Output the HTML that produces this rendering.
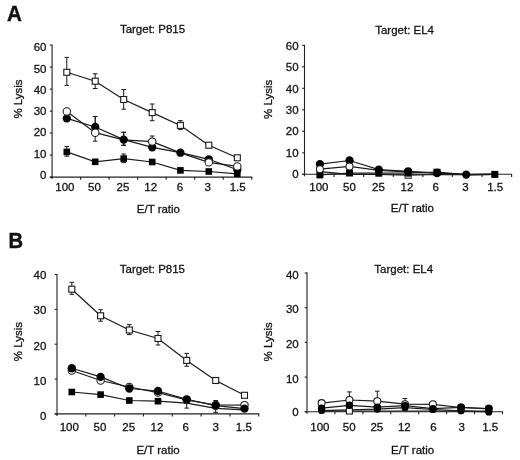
<!DOCTYPE html>
<html lang="en"><head><meta charset="utf-8"><title>Figure</title>
<style>
html,body{margin:0;padding:0;background:#fff;}
body{width:520px;height:460px;overflow:hidden;}
svg{display:block;filter:blur(0.25px);}
text{font-kerning:normal;stroke:#111;stroke-width:0.28px;}
</style></head><body>
<svg width="520" height="460" viewBox="0 0 520 460" font-family='"Liberation Sans", Arial, sans-serif' fill="#111">
<rect width="520" height="460" fill="#fff"/>
<text transform="translate(7.1 21.3) scale(0.95 1)" font-size="21.7" font-weight="bold" style="stroke-width:0.45px">A</text>
<text transform="translate(8.4 248.0) scale(0.93 1)" font-size="21.7" font-weight="bold" style="stroke-width:0.45px">B</text>
<line x1="52.10" y1="44.60" x2="52.10" y2="177.60" stroke="#202020" stroke-width="1.1"/>
<line x1="49.80" y1="177.10" x2="252.25" y2="177.10" stroke="#202020" stroke-width="1.1"/>
<line x1="49.80" y1="177.10" x2="52.10" y2="177.10" stroke="#202020" stroke-width="1.1"/>
<line x1="49.80" y1="155.10" x2="52.10" y2="155.10" stroke="#202020" stroke-width="1.1"/>
<line x1="49.80" y1="133.10" x2="52.10" y2="133.10" stroke="#202020" stroke-width="1.1"/>
<line x1="49.80" y1="111.10" x2="52.10" y2="111.10" stroke="#202020" stroke-width="1.1"/>
<line x1="49.80" y1="89.10" x2="52.10" y2="89.10" stroke="#202020" stroke-width="1.1"/>
<line x1="49.80" y1="67.10" x2="52.10" y2="67.10" stroke="#202020" stroke-width="1.1"/>
<line x1="49.80" y1="45.10" x2="52.10" y2="45.10" stroke="#202020" stroke-width="1.1"/>
<line x1="52.10" y1="177.10" x2="52.10" y2="179.10" stroke="#202020" stroke-width="1.1"/>
<line x1="80.62" y1="177.10" x2="80.62" y2="179.70" stroke="#202020" stroke-width="1.1"/>
<line x1="109.14" y1="177.10" x2="109.14" y2="179.70" stroke="#202020" stroke-width="1.1"/>
<line x1="137.66" y1="177.10" x2="137.66" y2="179.70" stroke="#202020" stroke-width="1.1"/>
<line x1="166.19" y1="177.10" x2="166.19" y2="179.70" stroke="#202020" stroke-width="1.1"/>
<line x1="194.71" y1="177.10" x2="194.71" y2="179.70" stroke="#202020" stroke-width="1.1"/>
<line x1="223.23" y1="177.10" x2="223.23" y2="179.70" stroke="#202020" stroke-width="1.1"/>
<line x1="251.75" y1="177.10" x2="251.75" y2="179.70" stroke="#202020" stroke-width="1.1"/>
<text x="46.50" y="178.80" font-size="11.5" text-anchor="end" font-weight="normal">0</text>
<text x="46.50" y="157.50" font-size="11.5" text-anchor="end" font-weight="normal">10</text>
<text x="46.50" y="136.10" font-size="11.5" text-anchor="end" font-weight="normal">20</text>
<text x="46.50" y="114.80" font-size="11.5" text-anchor="end" font-weight="normal">30</text>
<text x="46.50" y="94.10" font-size="11.5" text-anchor="end" font-weight="normal">40</text>
<text x="46.50" y="72.60" font-size="11.5" text-anchor="end" font-weight="normal">50</text>
<text x="46.50" y="50.80" font-size="11.5" text-anchor="end" font-weight="normal">60</text>
<text x="64.90" y="191.20" font-size="11.5" text-anchor="middle" font-weight="normal">100</text>
<text x="94.40" y="191.20" font-size="11.5" text-anchor="middle" font-weight="normal">50</text>
<text x="123.00" y="191.20" font-size="11.5" text-anchor="middle" font-weight="normal">25</text>
<text x="150.70" y="191.20" font-size="11.5" text-anchor="middle" font-weight="normal">12</text>
<text x="180.00" y="191.20" font-size="11.5" text-anchor="middle" font-weight="normal">6</text>
<text x="207.60" y="191.20" font-size="11.5" text-anchor="middle" font-weight="normal">3</text>
<text x="237.70" y="191.20" font-size="11.5" text-anchor="middle" font-weight="normal">1.5</text>
<text x="158.40" y="213.00" font-size="11.5" text-anchor="middle" font-weight="normal">E/T ratio</text>
<text x="152.50" y="33.30" font-size="11.5" text-anchor="middle" font-weight="normal">Target: P815</text>
<text x="22.10" y="99.00" font-size="11.5" text-anchor="middle" font-weight="normal" transform="rotate(-90 22.10 99.00)">% Lysis</text>
<polyline points="66.80,72.30 95.20,81.20 123.70,99.50 152.20,112.60 180.40,125.40 208.80,145.20 237.30,157.80" fill="none" stroke="#1a1a1a" stroke-width="1.2"/>
<polyline points="66.80,151.90 95.20,161.80 123.70,158.60 152.20,162.00 180.40,170.40 208.80,171.50 237.30,173.80" fill="none" stroke="#1a1a1a" stroke-width="1.2"/>
<polyline points="66.80,118.40 95.20,127.00 123.70,139.60 152.20,147.30 180.40,152.70 208.80,159.30 237.30,169.70" fill="none" stroke="#1a1a1a" stroke-width="1.2"/>
<polyline points="66.80,111.50 95.20,132.70 123.70,139.80 152.20,141.60 180.40,152.90 208.80,162.30 237.30,166.40" fill="none" stroke="#1a1a1a" stroke-width="1.2"/>
<line x1="66.80" y1="72.30" x2="66.80" y2="57.40" stroke="#1a1a1a" stroke-width="1.0"/>
<line x1="64.50" y1="57.40" x2="69.10" y2="57.40" stroke="#1a1a1a" stroke-width="1.0"/>
<line x1="66.80" y1="72.30" x2="66.80" y2="85.40" stroke="#1a1a1a" stroke-width="1.0"/>
<line x1="64.50" y1="85.40" x2="69.10" y2="85.40" stroke="#1a1a1a" stroke-width="1.0"/>
<line x1="95.20" y1="81.20" x2="95.20" y2="73.80" stroke="#1a1a1a" stroke-width="1.0"/>
<line x1="92.90" y1="73.80" x2="97.50" y2="73.80" stroke="#1a1a1a" stroke-width="1.0"/>
<line x1="95.20" y1="81.20" x2="95.20" y2="88.50" stroke="#1a1a1a" stroke-width="1.0"/>
<line x1="92.90" y1="88.50" x2="97.50" y2="88.50" stroke="#1a1a1a" stroke-width="1.0"/>
<line x1="123.70" y1="99.50" x2="123.70" y2="89.50" stroke="#1a1a1a" stroke-width="1.0"/>
<line x1="121.40" y1="89.50" x2="126.00" y2="89.50" stroke="#1a1a1a" stroke-width="1.0"/>
<line x1="123.70" y1="99.50" x2="123.70" y2="109.20" stroke="#1a1a1a" stroke-width="1.0"/>
<line x1="121.40" y1="109.20" x2="126.00" y2="109.20" stroke="#1a1a1a" stroke-width="1.0"/>
<line x1="152.20" y1="112.60" x2="152.20" y2="104.00" stroke="#1a1a1a" stroke-width="1.0"/>
<line x1="149.90" y1="104.00" x2="154.50" y2="104.00" stroke="#1a1a1a" stroke-width="1.0"/>
<line x1="152.20" y1="112.60" x2="152.20" y2="120.70" stroke="#1a1a1a" stroke-width="1.0"/>
<line x1="149.90" y1="120.70" x2="154.50" y2="120.70" stroke="#1a1a1a" stroke-width="1.0"/>
<line x1="180.40" y1="125.40" x2="180.40" y2="120.60" stroke="#1a1a1a" stroke-width="1.0"/>
<line x1="178.10" y1="120.60" x2="182.70" y2="120.60" stroke="#1a1a1a" stroke-width="1.0"/>
<line x1="180.40" y1="125.40" x2="180.40" y2="129.60" stroke="#1a1a1a" stroke-width="1.0"/>
<line x1="178.10" y1="129.60" x2="182.70" y2="129.60" stroke="#1a1a1a" stroke-width="1.0"/>
<rect x="63.80" y="69.30" width="6.0" height="6.0" fill="#fff" stroke="#1a1a1a" stroke-width="1.1"/>
<rect x="92.20" y="78.20" width="6.0" height="6.0" fill="#fff" stroke="#1a1a1a" stroke-width="1.1"/>
<rect x="120.70" y="96.50" width="6.0" height="6.0" fill="#fff" stroke="#1a1a1a" stroke-width="1.1"/>
<rect x="149.20" y="109.60" width="6.0" height="6.0" fill="#fff" stroke="#1a1a1a" stroke-width="1.1"/>
<rect x="177.40" y="122.40" width="6.0" height="6.0" fill="#fff" stroke="#1a1a1a" stroke-width="1.1"/>
<rect x="205.80" y="142.20" width="6.0" height="6.0" fill="#fff" stroke="#1a1a1a" stroke-width="1.1"/>
<rect x="234.30" y="154.80" width="6.0" height="6.0" fill="#fff" stroke="#1a1a1a" stroke-width="1.1"/>
<line x1="95.20" y1="127.00" x2="95.20" y2="116.50" stroke="#1a1a1a" stroke-width="1.0"/>
<line x1="92.90" y1="116.50" x2="97.50" y2="116.50" stroke="#1a1a1a" stroke-width="1.0"/>
<line x1="123.70" y1="139.60" x2="123.70" y2="132.30" stroke="#1a1a1a" stroke-width="1.0"/>
<line x1="121.40" y1="132.30" x2="126.00" y2="132.30" stroke="#1a1a1a" stroke-width="1.0"/>
<line x1="123.70" y1="139.60" x2="123.70" y2="145.30" stroke="#1a1a1a" stroke-width="1.0"/>
<line x1="121.40" y1="145.30" x2="126.00" y2="145.30" stroke="#1a1a1a" stroke-width="1.0"/>
<circle cx="237.30" cy="169.70" r="4.15" fill="#000"/>
<line x1="66.80" y1="151.90" x2="66.80" y2="146.50" stroke="#1a1a1a" stroke-width="1.0"/>
<line x1="64.50" y1="146.50" x2="69.10" y2="146.50" stroke="#1a1a1a" stroke-width="1.0"/>
<line x1="66.80" y1="151.90" x2="66.80" y2="156.20" stroke="#1a1a1a" stroke-width="1.0"/>
<line x1="64.50" y1="156.20" x2="69.10" y2="156.20" stroke="#1a1a1a" stroke-width="1.0"/>
<line x1="123.70" y1="158.60" x2="123.70" y2="154.00" stroke="#1a1a1a" stroke-width="1.0"/>
<line x1="121.40" y1="154.00" x2="126.00" y2="154.00" stroke="#1a1a1a" stroke-width="1.0"/>
<line x1="123.70" y1="158.60" x2="123.70" y2="162.60" stroke="#1a1a1a" stroke-width="1.0"/>
<line x1="121.40" y1="162.60" x2="126.00" y2="162.60" stroke="#1a1a1a" stroke-width="1.0"/>
<rect x="63.50" y="148.60" width="6.6" height="6.6" fill="#000"/>
<rect x="91.90" y="158.50" width="6.6" height="6.6" fill="#000"/>
<rect x="120.40" y="155.30" width="6.6" height="6.6" fill="#000"/>
<rect x="148.90" y="158.70" width="6.6" height="6.6" fill="#000"/>
<rect x="177.10" y="167.10" width="6.6" height="6.6" fill="#000"/>
<rect x="205.50" y="168.20" width="6.6" height="6.6" fill="#000"/>
<rect x="234.00" y="170.50" width="6.6" height="6.6" fill="#000"/>
<line x1="95.20" y1="127.00" x2="95.20" y2="116.50" stroke="#1a1a1a" stroke-width="1.0"/>
<line x1="92.90" y1="116.50" x2="97.50" y2="116.50" stroke="#1a1a1a" stroke-width="1.0"/>
<line x1="123.70" y1="139.60" x2="123.70" y2="132.30" stroke="#1a1a1a" stroke-width="1.0"/>
<line x1="121.40" y1="132.30" x2="126.00" y2="132.30" stroke="#1a1a1a" stroke-width="1.0"/>
<line x1="123.70" y1="139.60" x2="123.70" y2="145.30" stroke="#1a1a1a" stroke-width="1.0"/>
<line x1="121.40" y1="145.30" x2="126.00" y2="145.30" stroke="#1a1a1a" stroke-width="1.0"/>
<circle cx="66.80" cy="118.40" r="4.15" fill="#000"/>
<circle cx="95.20" cy="127.00" r="4.15" fill="#000"/>
<circle cx="123.70" cy="139.60" r="4.15" fill="#000"/>
<circle cx="152.20" cy="147.30" r="4.15" fill="#000"/>
<circle cx="180.40" cy="152.70" r="4.15" fill="#000"/>
<circle cx="208.80" cy="159.30" r="4.15" fill="#000"/>
<line x1="95.20" y1="132.70" x2="95.20" y2="141.20" stroke="#1a1a1a" stroke-width="1.0"/>
<line x1="92.90" y1="141.20" x2="97.50" y2="141.20" stroke="#1a1a1a" stroke-width="1.0"/>
<line x1="152.20" y1="141.60" x2="152.20" y2="136.00" stroke="#1a1a1a" stroke-width="1.0"/>
<line x1="149.90" y1="136.00" x2="154.50" y2="136.00" stroke="#1a1a1a" stroke-width="1.0"/>
<circle cx="66.80" cy="111.50" r="3.7" fill="#fff" stroke="#1a1a1a" stroke-width="1.05"/>
<circle cx="95.20" cy="132.70" r="3.7" fill="#fff" stroke="#1a1a1a" stroke-width="1.05"/>
<circle cx="152.20" cy="141.60" r="3.7" fill="#fff" stroke="#1a1a1a" stroke-width="1.05"/>
<circle cx="208.80" cy="162.30" r="3.7" fill="#fff" stroke="#1a1a1a" stroke-width="1.05"/>
<circle cx="237.30" cy="166.40" r="3.7" fill="#fff" stroke="#1a1a1a" stroke-width="1.05"/>
<line x1="304.50" y1="44.80" x2="304.50" y2="174.80" stroke="#202020" stroke-width="1.1"/>
<line x1="302.20" y1="174.30" x2="512.10" y2="174.30" stroke="#202020" stroke-width="1.1"/>
<line x1="302.20" y1="174.30" x2="304.50" y2="174.30" stroke="#202020" stroke-width="1.1"/>
<line x1="302.20" y1="152.80" x2="304.50" y2="152.80" stroke="#202020" stroke-width="1.1"/>
<line x1="302.20" y1="131.30" x2="304.50" y2="131.30" stroke="#202020" stroke-width="1.1"/>
<line x1="302.20" y1="109.80" x2="304.50" y2="109.80" stroke="#202020" stroke-width="1.1"/>
<line x1="302.20" y1="88.30" x2="304.50" y2="88.30" stroke="#202020" stroke-width="1.1"/>
<line x1="302.20" y1="66.80" x2="304.50" y2="66.80" stroke="#202020" stroke-width="1.1"/>
<line x1="302.20" y1="45.30" x2="304.50" y2="45.30" stroke="#202020" stroke-width="1.1"/>
<line x1="304.50" y1="174.30" x2="304.50" y2="176.30" stroke="#202020" stroke-width="1.1"/>
<line x1="334.09" y1="174.30" x2="334.09" y2="176.90" stroke="#202020" stroke-width="1.1"/>
<line x1="363.67" y1="174.30" x2="363.67" y2="176.90" stroke="#202020" stroke-width="1.1"/>
<line x1="393.26" y1="174.30" x2="393.26" y2="176.90" stroke="#202020" stroke-width="1.1"/>
<line x1="422.84" y1="174.30" x2="422.84" y2="176.90" stroke="#202020" stroke-width="1.1"/>
<line x1="452.43" y1="174.30" x2="452.43" y2="176.90" stroke="#202020" stroke-width="1.1"/>
<line x1="482.01" y1="174.30" x2="482.01" y2="176.90" stroke="#202020" stroke-width="1.1"/>
<line x1="511.60" y1="174.30" x2="511.60" y2="176.90" stroke="#202020" stroke-width="1.1"/>
<text x="298.60" y="178.10" font-size="11.5" text-anchor="end" font-weight="normal">0</text>
<text x="298.60" y="156.70" font-size="11.5" text-anchor="end" font-weight="normal">10</text>
<text x="298.60" y="135.40" font-size="11.5" text-anchor="end" font-weight="normal">20</text>
<text x="298.60" y="113.90" font-size="11.5" text-anchor="end" font-weight="normal">30</text>
<text x="298.60" y="92.50" font-size="11.5" text-anchor="end" font-weight="normal">40</text>
<text x="298.60" y="71.20" font-size="11.5" text-anchor="end" font-weight="normal">50</text>
<text x="298.60" y="49.70" font-size="11.5" text-anchor="end" font-weight="normal">60</text>
<text x="318.90" y="190.50" font-size="11.5" text-anchor="middle" font-weight="normal">100</text>
<text x="349.40" y="190.50" font-size="11.5" text-anchor="middle" font-weight="normal">50</text>
<text x="378.50" y="190.50" font-size="11.5" text-anchor="middle" font-weight="normal">25</text>
<text x="407.00" y="190.50" font-size="11.5" text-anchor="middle" font-weight="normal">12</text>
<text x="435.70" y="190.50" font-size="11.5" text-anchor="middle" font-weight="normal">6</text>
<text x="465.50" y="190.50" font-size="11.5" text-anchor="middle" font-weight="normal">3</text>
<text x="495.20" y="190.50" font-size="11.5" text-anchor="middle" font-weight="normal">1.5</text>
<text x="412.40" y="212.00" font-size="11.5" text-anchor="middle" font-weight="normal">E/T ratio</text>
<text x="404.60" y="33.70" font-size="11.5" text-anchor="middle" font-weight="normal">Target: EL4</text>
<text x="271.70" y="99.40" font-size="11.5" text-anchor="middle" font-weight="normal" transform="rotate(-90 271.70 99.40)">% Lysis</text>
<polyline points="319.90,171.60 349.50,174.30 378.80,174.50 408.10,175.20 437.00,174.50 466.20,174.60 494.80,174.40" fill="none" stroke="#1a1a1a" stroke-width="1.2"/>
<polyline points="319.90,174.90 349.50,173.00 378.80,173.20 408.10,173.00 437.00,172.20 466.20,174.60 494.80,174.40" fill="none" stroke="#1a1a1a" stroke-width="1.2"/>
<polyline points="319.90,164.10 349.50,160.50 378.80,169.60 408.10,171.30 437.00,173.00 466.20,174.60 494.80,174.40" fill="none" stroke="#1a1a1a" stroke-width="1.2"/>
<polyline points="319.90,169.20 349.50,166.40 378.80,170.40 408.10,171.80 437.00,173.20 466.20,174.60 494.80,174.40" fill="none" stroke="#1a1a1a" stroke-width="1.2"/>
<rect x="405.00" y="172.30" width="6.2" height="6.2" fill="#bbb" stroke="#555" stroke-width="1"/>
<rect x="316.40" y="171.40" width="7.0" height="7.0" fill="#000"/>
<rect x="346.00" y="169.50" width="7.0" height="7.0" fill="#000"/>
<rect x="375.30" y="169.70" width="7.0" height="7.0" fill="#000"/>
<rect x="404.60" y="169.50" width="7.0" height="7.0" fill="#000"/>
<rect x="433.50" y="168.70" width="7.0" height="7.0" fill="#000"/>
<rect x="491.30" y="170.90" width="7.0" height="7.0" fill="#000"/>
<circle cx="319.90" cy="164.10" r="4.15" fill="#000"/>
<circle cx="349.50" cy="160.50" r="4.15" fill="#000"/>
<circle cx="378.80" cy="169.60" r="4.15" fill="#000"/>
<circle cx="408.10" cy="171.30" r="4.15" fill="#000"/>
<circle cx="437.00" cy="173.00" r="4.15" fill="#000"/>
<circle cx="466.20" cy="174.60" r="4.15" fill="#000"/>
<circle cx="319.90" cy="169.20" r="3.5" fill="#fff" stroke="#1a1a1a" stroke-width="1.05"/>
<circle cx="349.50" cy="166.40" r="3.5" fill="#fff" stroke="#1a1a1a" stroke-width="1.05"/>
<line x1="57.00" y1="274.00" x2="57.00" y2="414.40" stroke="#202020" stroke-width="1.1"/>
<line x1="54.70" y1="413.90" x2="259.25" y2="413.90" stroke="#202020" stroke-width="1.1"/>
<line x1="54.70" y1="413.90" x2="57.00" y2="413.90" stroke="#202020" stroke-width="1.1"/>
<line x1="54.70" y1="379.05" x2="57.00" y2="379.05" stroke="#202020" stroke-width="1.1"/>
<line x1="54.70" y1="344.20" x2="57.00" y2="344.20" stroke="#202020" stroke-width="1.1"/>
<line x1="54.70" y1="309.35" x2="57.00" y2="309.35" stroke="#202020" stroke-width="1.1"/>
<line x1="54.70" y1="274.50" x2="57.00" y2="274.50" stroke="#202020" stroke-width="1.1"/>
<line x1="57.00" y1="413.90" x2="57.00" y2="415.90" stroke="#202020" stroke-width="1.1"/>
<line x1="85.82" y1="413.90" x2="85.82" y2="416.50" stroke="#202020" stroke-width="1.1"/>
<line x1="114.64" y1="413.90" x2="114.64" y2="416.50" stroke="#202020" stroke-width="1.1"/>
<line x1="143.46" y1="413.90" x2="143.46" y2="416.50" stroke="#202020" stroke-width="1.1"/>
<line x1="172.29" y1="413.90" x2="172.29" y2="416.50" stroke="#202020" stroke-width="1.1"/>
<line x1="201.11" y1="413.90" x2="201.11" y2="416.50" stroke="#202020" stroke-width="1.1"/>
<line x1="229.93" y1="413.90" x2="229.93" y2="416.50" stroke="#202020" stroke-width="1.1"/>
<line x1="258.75" y1="413.90" x2="258.75" y2="416.50" stroke="#202020" stroke-width="1.1"/>
<text x="46.30" y="419.60" font-size="11.5" text-anchor="end" font-weight="normal">0</text>
<text x="46.30" y="384.70" font-size="11.5" text-anchor="end" font-weight="normal">10</text>
<text x="46.30" y="349.70" font-size="11.5" text-anchor="end" font-weight="normal">20</text>
<text x="46.30" y="314.30" font-size="11.5" text-anchor="end" font-weight="normal">30</text>
<text x="46.30" y="279.40" font-size="11.5" text-anchor="end" font-weight="normal">40</text>
<text x="69.30" y="431.40" font-size="11.5" text-anchor="middle" font-weight="normal">100</text>
<text x="99.90" y="431.40" font-size="11.5" text-anchor="middle" font-weight="normal">50</text>
<text x="128.70" y="431.40" font-size="11.5" text-anchor="middle" font-weight="normal">25</text>
<text x="157.00" y="431.40" font-size="11.5" text-anchor="middle" font-weight="normal">12</text>
<text x="185.80" y="431.40" font-size="11.5" text-anchor="middle" font-weight="normal">6</text>
<text x="215.70" y="431.40" font-size="11.5" text-anchor="middle" font-weight="normal">3</text>
<text x="243.80" y="431.40" font-size="11.5" text-anchor="middle" font-weight="normal">1.5</text>
<text x="158.00" y="453.80" font-size="11.5" text-anchor="middle" font-weight="normal">E/T ratio</text>
<text x="152.40" y="273.20" font-size="11.5" text-anchor="middle" font-weight="normal">Target: P815</text>
<text x="21.80" y="341.60" font-size="11.5" text-anchor="middle" font-weight="normal" transform="rotate(-90 21.80 341.60)">% Lysis</text>
<polyline points="71.80,289.20 100.60,315.80 129.30,330.00 158.00,338.50 186.70,360.40 215.70,380.50 244.50,395.30" fill="none" stroke="#1a1a1a" stroke-width="1.2"/>
<polyline points="71.80,392.00 100.60,394.60 129.30,400.50 158.00,401.20 186.70,403.20 215.70,408.30 244.50,409.80" fill="none" stroke="#1a1a1a" stroke-width="1.2"/>
<polyline points="71.80,370.50 100.60,380.50 129.30,387.00 158.00,392.60 186.70,400.00 215.70,405.00 244.50,405.10" fill="none" stroke="#1a1a1a" stroke-width="1.2"/>
<polyline points="71.80,368.20 100.60,376.90 129.30,388.50 158.00,391.00 186.70,399.30 215.70,405.70 244.50,408.60" fill="none" stroke="#1a1a1a" stroke-width="1.2"/>
<line x1="71.80" y1="289.20" x2="71.80" y2="282.30" stroke="#1a1a1a" stroke-width="1.0"/>
<line x1="69.50" y1="282.30" x2="74.10" y2="282.30" stroke="#1a1a1a" stroke-width="1.0"/>
<line x1="71.80" y1="289.20" x2="71.80" y2="294.30" stroke="#1a1a1a" stroke-width="1.0"/>
<line x1="69.50" y1="294.30" x2="74.10" y2="294.30" stroke="#1a1a1a" stroke-width="1.0"/>
<line x1="100.60" y1="315.80" x2="100.60" y2="309.70" stroke="#1a1a1a" stroke-width="1.0"/>
<line x1="98.30" y1="309.70" x2="102.90" y2="309.70" stroke="#1a1a1a" stroke-width="1.0"/>
<line x1="100.60" y1="315.80" x2="100.60" y2="321.20" stroke="#1a1a1a" stroke-width="1.0"/>
<line x1="98.30" y1="321.20" x2="102.90" y2="321.20" stroke="#1a1a1a" stroke-width="1.0"/>
<line x1="129.30" y1="330.00" x2="129.30" y2="324.60" stroke="#1a1a1a" stroke-width="1.0"/>
<line x1="127.00" y1="324.60" x2="131.60" y2="324.60" stroke="#1a1a1a" stroke-width="1.0"/>
<line x1="129.30" y1="330.00" x2="129.30" y2="334.60" stroke="#1a1a1a" stroke-width="1.0"/>
<line x1="127.00" y1="334.60" x2="131.60" y2="334.60" stroke="#1a1a1a" stroke-width="1.0"/>
<line x1="158.00" y1="338.50" x2="158.00" y2="331.50" stroke="#1a1a1a" stroke-width="1.0"/>
<line x1="155.70" y1="331.50" x2="160.30" y2="331.50" stroke="#1a1a1a" stroke-width="1.0"/>
<line x1="158.00" y1="338.50" x2="158.00" y2="345.00" stroke="#1a1a1a" stroke-width="1.0"/>
<line x1="155.70" y1="345.00" x2="160.30" y2="345.00" stroke="#1a1a1a" stroke-width="1.0"/>
<line x1="186.70" y1="360.40" x2="186.70" y2="353.40" stroke="#1a1a1a" stroke-width="1.0"/>
<line x1="184.40" y1="353.40" x2="189.00" y2="353.40" stroke="#1a1a1a" stroke-width="1.0"/>
<line x1="186.70" y1="360.40" x2="186.70" y2="366.20" stroke="#1a1a1a" stroke-width="1.0"/>
<line x1="184.40" y1="366.20" x2="189.00" y2="366.20" stroke="#1a1a1a" stroke-width="1.0"/>
<rect x="68.80" y="286.20" width="6.0" height="6.0" fill="#fff" stroke="#1a1a1a" stroke-width="1.1"/>
<rect x="97.60" y="312.80" width="6.0" height="6.0" fill="#fff" stroke="#1a1a1a" stroke-width="1.1"/>
<rect x="126.30" y="327.00" width="6.0" height="6.0" fill="#fff" stroke="#1a1a1a" stroke-width="1.1"/>
<rect x="155.00" y="335.50" width="6.0" height="6.0" fill="#fff" stroke="#1a1a1a" stroke-width="1.1"/>
<rect x="183.70" y="357.40" width="6.0" height="6.0" fill="#fff" stroke="#1a1a1a" stroke-width="1.1"/>
<rect x="212.70" y="377.50" width="6.0" height="6.0" fill="#fff" stroke="#1a1a1a" stroke-width="1.1"/>
<rect x="241.50" y="392.30" width="6.0" height="6.0" fill="#fff" stroke="#1a1a1a" stroke-width="1.1"/>
<line x1="186.70" y1="403.20" x2="186.70" y2="408.10" stroke="#1a1a1a" stroke-width="1.0"/>
<line x1="184.40" y1="408.10" x2="189.00" y2="408.10" stroke="#1a1a1a" stroke-width="1.0"/>
<rect x="68.50" y="388.70" width="6.6" height="6.6" fill="#000"/>
<rect x="97.30" y="391.30" width="6.6" height="6.6" fill="#000"/>
<rect x="126.00" y="397.20" width="6.6" height="6.6" fill="#000"/>
<rect x="154.70" y="397.90" width="6.6" height="6.6" fill="#000"/>
<circle cx="71.80" cy="370.50" r="3.7" fill="#fff" stroke="#1a1a1a" stroke-width="1.05"/>
<circle cx="100.60" cy="380.50" r="3.7" fill="#fff" stroke="#1a1a1a" stroke-width="1.05"/>
<circle cx="129.30" cy="387.00" r="3.7" fill="#fff" stroke="#1a1a1a" stroke-width="1.05"/>
<circle cx="158.00" cy="392.60" r="3.7" fill="#fff" stroke="#1a1a1a" stroke-width="1.05"/>
<circle cx="186.70" cy="400.00" r="3.7" fill="#fff" stroke="#1a1a1a" stroke-width="1.05"/>
<circle cx="215.70" cy="405.00" r="3.7" fill="#fff" stroke="#1a1a1a" stroke-width="1.05"/>
<circle cx="244.50" cy="405.10" r="3.7" fill="#fff" stroke="#1a1a1a" stroke-width="1.05"/>
<line x1="215.70" y1="405.70" x2="215.70" y2="400.50" stroke="#1a1a1a" stroke-width="1.0"/>
<line x1="213.40" y1="400.50" x2="218.00" y2="400.50" stroke="#1a1a1a" stroke-width="1.0"/>
<line x1="215.70" y1="405.70" x2="215.70" y2="412.40" stroke="#1a1a1a" stroke-width="1.0"/>
<line x1="213.40" y1="412.40" x2="218.00" y2="412.40" stroke="#1a1a1a" stroke-width="1.0"/>
<circle cx="71.80" cy="368.20" r="4.15" fill="#000"/>
<circle cx="100.60" cy="376.90" r="4.15" fill="#000"/>
<circle cx="129.30" cy="388.50" r="4.15" fill="#000"/>
<circle cx="158.00" cy="391.00" r="4.15" fill="#000"/>
<circle cx="186.70" cy="399.30" r="4.15" fill="#000"/>
<circle cx="215.70" cy="405.70" r="4.15" fill="#000"/>
<circle cx="244.50" cy="408.60" r="4.15" fill="#000"/>
<line x1="307.00" y1="272.50" x2="307.00" y2="412.25" stroke="#202020" stroke-width="1.1"/>
<line x1="304.70" y1="411.75" x2="503.00" y2="411.75" stroke="#202020" stroke-width="1.1"/>
<line x1="304.70" y1="411.75" x2="307.00" y2="411.75" stroke="#202020" stroke-width="1.1"/>
<line x1="304.70" y1="377.06" x2="307.00" y2="377.06" stroke="#202020" stroke-width="1.1"/>
<line x1="304.70" y1="342.38" x2="307.00" y2="342.38" stroke="#202020" stroke-width="1.1"/>
<line x1="304.70" y1="307.69" x2="307.00" y2="307.69" stroke="#202020" stroke-width="1.1"/>
<line x1="304.70" y1="273.00" x2="307.00" y2="273.00" stroke="#202020" stroke-width="1.1"/>
<line x1="307.00" y1="411.75" x2="307.00" y2="413.75" stroke="#202020" stroke-width="1.1"/>
<line x1="334.93" y1="411.75" x2="334.93" y2="414.35" stroke="#202020" stroke-width="1.1"/>
<line x1="362.86" y1="411.75" x2="362.86" y2="414.35" stroke="#202020" stroke-width="1.1"/>
<line x1="390.79" y1="411.75" x2="390.79" y2="414.35" stroke="#202020" stroke-width="1.1"/>
<line x1="418.71" y1="411.75" x2="418.71" y2="414.35" stroke="#202020" stroke-width="1.1"/>
<line x1="446.64" y1="411.75" x2="446.64" y2="414.35" stroke="#202020" stroke-width="1.1"/>
<line x1="474.57" y1="411.75" x2="474.57" y2="414.35" stroke="#202020" stroke-width="1.1"/>
<line x1="502.50" y1="411.75" x2="502.50" y2="414.35" stroke="#202020" stroke-width="1.1"/>
<text x="298.70" y="416.10" font-size="11.5" text-anchor="end" font-weight="normal">0</text>
<text x="298.70" y="383.20" font-size="11.5" text-anchor="end" font-weight="normal">10</text>
<text x="298.70" y="348.30" font-size="11.5" text-anchor="end" font-weight="normal">20</text>
<text x="298.70" y="313.20" font-size="11.5" text-anchor="end" font-weight="normal">30</text>
<text x="298.70" y="278.75" font-size="11.5" text-anchor="end" font-weight="normal">40</text>
<text x="319.90" y="431.30" font-size="11.5" text-anchor="middle" font-weight="normal">100</text>
<text x="349.20" y="431.30" font-size="11.5" text-anchor="middle" font-weight="normal">50</text>
<text x="376.80" y="431.30" font-size="11.5" text-anchor="middle" font-weight="normal">25</text>
<text x="404.30" y="431.30" font-size="11.5" text-anchor="middle" font-weight="normal">12</text>
<text x="433.50" y="431.30" font-size="11.5" text-anchor="middle" font-weight="normal">6</text>
<text x="461.60" y="431.30" font-size="11.5" text-anchor="middle" font-weight="normal">3</text>
<text x="490.20" y="431.30" font-size="11.5" text-anchor="middle" font-weight="normal">1.5</text>
<text x="412.60" y="453.80" font-size="11.5" text-anchor="middle" font-weight="normal">E/T ratio</text>
<text x="403.70" y="273.20" font-size="11.5" text-anchor="middle" font-weight="normal">Target: EL4</text>
<text x="271.60" y="341.80" font-size="11.5" text-anchor="middle" font-weight="normal" transform="rotate(-90 271.60 341.80)">% Lysis</text>
<polyline points="321.60,411.00 349.40,411.00 377.30,411.00 405.00,411.00 432.90,411.00 461.00,411.00 488.80,411.00" fill="none" stroke="#1a1a1a" stroke-width="1.2"/>
<polyline points="321.60,410.60 349.40,409.80 377.30,409.20 405.00,407.60 432.90,409.50 461.00,410.80 488.80,412.00" fill="none" stroke="#1a1a1a" stroke-width="1.2"/>
<polyline points="321.60,403.10 349.40,400.00 377.30,401.20 405.00,404.20 432.90,404.30 461.00,407.50 488.80,408.50" fill="none" stroke="#1a1a1a" stroke-width="1.2"/>
<polyline points="321.60,408.20 349.40,405.30 377.30,407.20 405.00,405.70 432.90,408.70 461.00,407.30 488.80,408.80" fill="none" stroke="#1a1a1a" stroke-width="1.2"/>
<rect x="346.40" y="408.00" width="6.0" height="6.0" fill="#fff" stroke="#1a1a1a" stroke-width="1.1"/>
<line x1="349.40" y1="400.00" x2="349.40" y2="391.90" stroke="#1a1a1a" stroke-width="1.0"/>
<line x1="347.10" y1="391.90" x2="351.70" y2="391.90" stroke="#1a1a1a" stroke-width="1.0"/>
<line x1="377.30" y1="401.20" x2="377.30" y2="391.20" stroke="#1a1a1a" stroke-width="1.0"/>
<line x1="375.00" y1="391.20" x2="379.60" y2="391.20" stroke="#1a1a1a" stroke-width="1.0"/>
<line x1="405.00" y1="404.20" x2="405.00" y2="398.50" stroke="#1a1a1a" stroke-width="1.0"/>
<line x1="402.70" y1="398.50" x2="407.30" y2="398.50" stroke="#1a1a1a" stroke-width="1.0"/>
<circle cx="321.60" cy="403.10" r="3.5" fill="#fff" stroke="#1a1a1a" stroke-width="1.05"/>
<circle cx="349.40" cy="400.00" r="3.5" fill="#fff" stroke="#1a1a1a" stroke-width="1.05"/>
<circle cx="377.30" cy="401.20" r="3.5" fill="#fff" stroke="#1a1a1a" stroke-width="1.05"/>
<circle cx="405.00" cy="404.20" r="3.5" fill="#fff" stroke="#1a1a1a" stroke-width="1.05"/>
<circle cx="432.90" cy="404.30" r="3.5" fill="#fff" stroke="#1a1a1a" stroke-width="1.05"/>
<circle cx="461.00" cy="407.50" r="3.5" fill="#fff" stroke="#1a1a1a" stroke-width="1.05"/>
<circle cx="488.80" cy="408.50" r="3.5" fill="#fff" stroke="#1a1a1a" stroke-width="1.05"/>
<rect x="318.10" y="407.10" width="7.0" height="7.0" rx="3.1" fill="#000"/>
<rect x="373.80" y="405.70" width="7.0" height="7.0" rx="3.1" fill="#000"/>
<rect x="401.50" y="404.10" width="7.0" height="7.0" rx="3.1" fill="#000"/>
<rect x="429.40" y="406.00" width="7.0" height="7.0" rx="3.1" fill="#000"/>
<rect x="457.50" y="407.30" width="7.0" height="7.0" rx="3.1" fill="#000"/>
<rect x="485.30" y="408.50" width="7.0" height="7.0" rx="3.1" fill="#000"/>
<circle cx="321.60" cy="408.20" r="3.75" fill="#000"/>
<circle cx="349.40" cy="405.30" r="3.75" fill="#000"/>
<circle cx="377.30" cy="407.20" r="3.75" fill="#000"/>
<circle cx="405.00" cy="405.70" r="3.75" fill="#000"/>
<circle cx="432.90" cy="408.70" r="3.75" fill="#000"/>
<circle cx="461.00" cy="407.30" r="3.75" fill="#000"/>
<circle cx="488.80" cy="408.80" r="3.75" fill="#000"/>
</svg>
</body></html>
